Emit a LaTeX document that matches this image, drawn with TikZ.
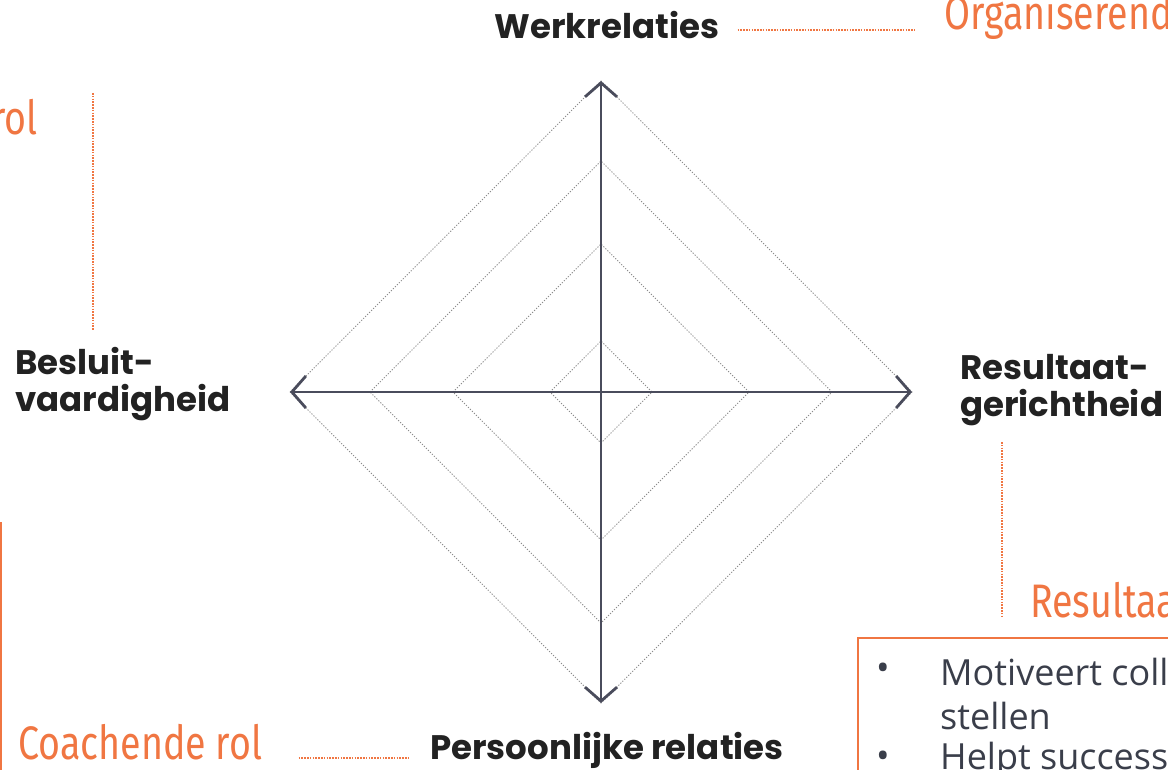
\documentclass[tikz,border=0pt]{standalone}
\usepackage{fontspec}
\setmainfont{Open Sans}
\newfontfamily\labfont{Poppins}
\newfontfamily\rolfont[FakeStretch=0.8]{Fira Sans}
\usetikzlibrary{arrows.meta}
\definecolor{oranje}{RGB}{240,118,66}
\definecolor{as}{RGB}{74,76,92}
\definecolor{tekst}{RGB}{34,34,34}
\definecolor{lijst}{RGB}{58,62,74}
\begin{document}
\begin{tikzpicture}[x=1pt,y=-1pt,
    lab/.style={text=tekst,font=\labfont\bfseries\fontsize{34}{37}\selectfont,align=left,inner sep=0pt},
    rol/.style={text=oranje,font=\rolfont\fontsize{47}{50}\selectfont,inner sep=0pt},
    item/.style={text=lijst,font=\fontsize{36}{44}\selectfont,inner sep=0pt,anchor=west},
    oline/.style={oranje,line width=1.2pt,dash pattern=on 1.6pt off 1.2pt},
    axis/.style={as,line width=2pt,-{Straight Barb[length=14pt,width=32pt,line width=2.8pt]}},
    ring/.style={black!45,line width=0.9pt,dash pattern=on 1.2pt off 1.6pt}]
  \useasboundingbox (0,0) rectangle (1168,770);
  \clip (0,0) rectangle (1168,770);
  % kwadranten
  \foreach \r in {311,231,148,51}
    \draw[ring] (601-\r,392) -- (601,392-\r) -- (601+\r,392) -- (601,392+\r) -- cycle;
  % assen
  \coordinate (c) at (601,392);
  \coordinate (tn) at (601,81);
  \coordinate (ts) at (601,703);
  \coordinate (tw) at (290,392);
  \coordinate (te) at (912,392);
  \draw[axis] (c) -- (tn);
  \draw[axis] (c) -- (ts);
  \draw[axis] (c) -- (tw);
  \draw[axis] (c) -- (te);
  % labels
  \node[lab] (werk) at (607,25) {Werkrelaties};
  \node[lab,anchor=west] (besluit) at (15,384) {Besluit-\\vaardigheid};
  \node[lab,anchor=west] (result) at (960,390) {Resultaat-\\gerichtheid};
  \node[lab] (pers) at (607,750) {Persoonlijke relaties};
  % rollen
  \node[rol,anchor=west] (org) at (944,16) {Organiserend};
  \node[rol,anchor=east] (rol) at (38,117) {rol};
  \node[rol,anchor=west] (coach) at (18,742) {Coachende rol};
  \node[rol,anchor=west] (res) at (1030,600) {Resultaa};
  \draw[oline,shorten <=18pt,shorten >=29pt] ([yshift=-5pt]werk.east) -- ([yshift=-14pt]org.west);
  \draw[oline,shorten <=36pt,shorten >=22pt] ([yshift=-16pt]coach.east) -- ([yshift=-8pt]pers.west);
  \coordinate (l1) at (93,93);
  \coordinate (l2) at (93,330);
  \draw[oline] (l1) -- (l2);
  \coordinate (r1) at (1002,442);
  \coordinate (r2) at (1002,618);
  \draw[oline] (r1) -- (r2);
  % kaders
  \draw[oranje,line width=1.5pt] (1,522) -- (1,780);
  \draw[oranje,line width=1.2pt] (858,638) rectangle (1200,800);
  \node[item] (b1) at (876,672) {•};
  \node[item] (m1) at (940,672) {Motiveert coll};
  \node[item] (m2) at (940,716) {stellen};
  \node[item] (b2) at (876,760) {•};
  \node[item] (m3) at (940,760) {Helpt successe};
\end{tikzpicture}
\end{document}
